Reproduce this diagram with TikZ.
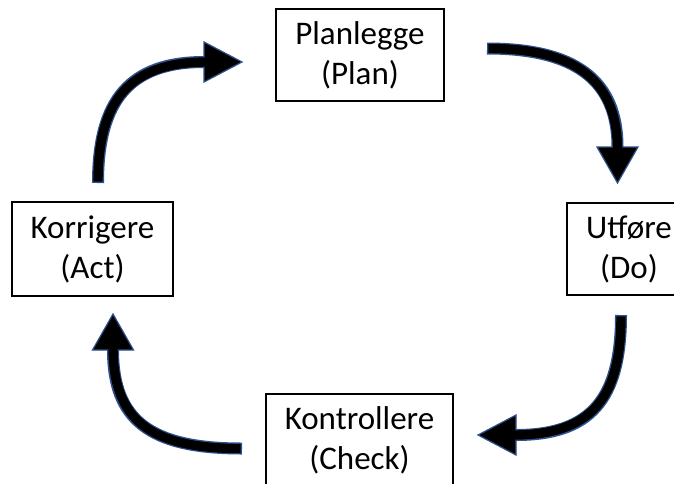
\documentclass[tikz,border=0pt]{standalone}
\usepackage{fontspec}
\setmainfont{Carlito}
\definecolor{arrowedge}{HTML}{2F528F}
\tikzset{
  stagebox/.style={draw=black, line width=1.1pt, fill=white, align=center, inner sep=0pt,
    font=\fontsize{33}{40}\selectfont},
  shaftout/.style={draw=arrowedge, line width=12pt, line cap=butt},
  shaftin/.style={draw=black, line width=9.4pt, line cap=butt},
  headtri/.style={fill=black, draw=arrowedge, line width=1.2pt, line join=miter}
}
\begin{document}
\begin{tikzpicture}[x=1pt,y=-1pt]
\clip (0,0) rectangle (674,483);
\fill[white] (0,0) rectangle (674,483);
% stage boxes
\node[stagebox, minimum width=168pt, minimum height=92pt] (plan) at (360,55) {Planlegge\\(Plan)};
\node[stagebox, minimum width=124pt, minimum height=92pt] (do) at (629,249) {Utføre\\(Do)};
\node[stagebox, minimum width=187pt, minimum height=92pt] (check) at (359.5,440) {Kontrollere\\(Check)};
\node[stagebox, minimum width=161pt, minimum height=94pt] (act) at (92.5,249) {Korrigere\\(Act)};
% arrow end points
\coordinate (trS) at (487,48.5);
\coordinate (trE) at (617.5,147);
\coordinate (brS) at (621,315);
\coordinate (brE) at (516,435);
\coordinate (blS) at (242,448.5);
\coordinate (blE) at (113,350);
\coordinate (tlS) at (98,183);
\coordinate (tlE) at (204,62);
% plan -> do
\draw[shaftout] (trS) .. controls (575,48.5) and (617.5,80) .. (trE);
\draw[headtri] (597,147) -- (617.5,183) -- (638,147) -- cycle;
\draw[shaftin, shorten <=1.3pt] (trS) .. controls (575,48.5) and (617.5,80) .. (617.5,150);
% do -> check
\draw[shaftout] (brS) .. controls (621,400) and (590,435) .. (brE);
\draw[headtri] (516,415) -- (478,435) -- (516,455) -- cycle;
\draw[shaftin, shorten <=1.3pt] (brS) .. controls (621,400) and (590,435) .. (513,435);
% check -> act
\draw[shaftout] (blS) .. controls (150,448.5) and (113,420) .. (blE);
\draw[headtri] (92.5,350) -- (113,314) -- (133.5,350) -- cycle;
\draw[shaftin, shorten <=1.3pt] (blS) .. controls (150,448.5) and (113,420) .. (113,347);
% act -> plan
\draw[shaftout] (tlS) .. controls (98,100) and (130,62) .. (tlE);
\draw[headtri] (204,42) -- (242,62) -- (204,82) -- cycle;
\draw[shaftin, shorten <=1.3pt] (tlS) .. controls (98,100) and (130,62) .. (207,62);
\end{tikzpicture}
\end{document}
